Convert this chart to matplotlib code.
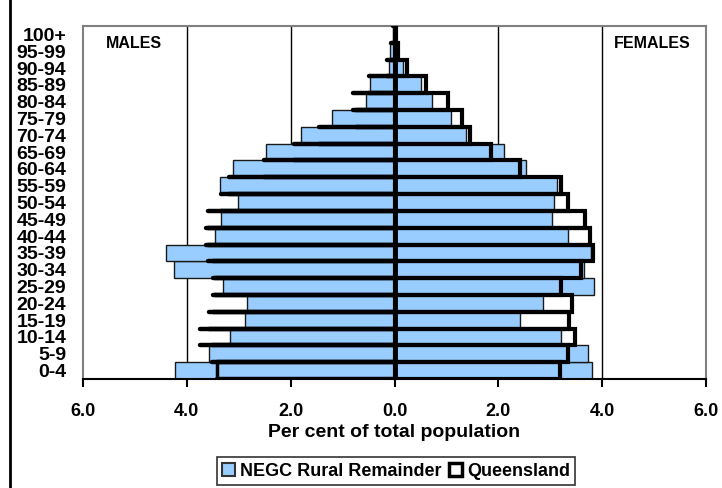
import numpy as np
import matplotlib
matplotlib.use('Agg')
from matplotlib import pyplot as plt
from matplotlib.patches import Patch
from matplotlib.lines import Line2D

plt.rcParams['font.family'] = ['Liberation Sans', 'DejaVu Sans']
plt.rcParams['font.weight'] = 'bold'

# age groups, youngest first
ages = ['0-4', '5-9', '10-14', '15-19', '20-24', '25-29', '30-34', '35-39',
        '40-44', '45-49', '50-54', '55-59', '60-64', '65-69', '70-74',
        '75-79', '80-84', '85-89', '90-94', '95-99', '100+']
# per cent of total population
negc_male = [4.23, 3.57, 3.16, 2.88, 2.85, 3.31, 4.24, 4.40, 3.46, 3.34, 3.02,
             3.36, 3.11, 2.48, 1.80, 1.21, 0.55, 0.48, 0.11, 0.09, 0.03]
negc_female = [3.80, 3.72, 3.21, 2.41, 2.86, 3.85, 3.65, 3.78, 3.34, 3.04, 3.08,
               3.13, 2.53, 2.11, 1.37, 1.08, 0.73, 0.52, 0.16, 0.05, 0.01]
qld_male = [3.41, 3.52, 3.75, 3.57, 3.49, 3.45, 3.49, 3.59, 3.63, 3.60, 3.35,
            3.18, 2.51, 1.93, 1.45, 0.75, 0.80, 0.49, 0.14, 0.07, 0.03]
qld_female = [3.18, 3.34, 3.48, 3.36, 3.41, 3.21, 3.60, 3.83, 3.76, 3.66, 3.34,
              3.21, 2.41, 1.85, 1.45, 1.30, 1.04, 0.60, 0.24, 0.07, 0.02]
xticks = [-6, -4, -2, 0, 2, 4, 6]

y = np.arange(len(ages))
blue = '#99CCFF'

fig = plt.figure(figsize=(7.22, 4.88), dpi=100)
ax = fig.add_axes([83/722, 1-379/488, 623/722, 353/488])

for gx in [-4, -2, 2, 4]:
    ax.axvline(gx, color='k', lw=1, zorder=0)

ax.barh(y, -np.array(negc_male), height=1.0, color=blue, edgecolor='#1a1a1a', lw=1, zorder=2)
ax.barh(y, negc_female, height=1.0, color=blue, edgecolor='#1a1a1a', lw=1, zorder=2)

# queensland, outline only
ax.barh(y, qld_female, height=1.0, fill=False, edgecolor='k', lw=3, zorder=3)
qm = -np.array(qld_male)
ax.hlines(y + 0.5, qm, 0, color='k', lw=3.2, zorder=3, capstyle='round')
ax.hlines(y - 0.5, qm, 0, color='k', lw=3.2, zorder=3, capstyle='round')
ax.vlines(qm[0], -0.5, 0.5, color='k', lw=2.5, zorder=3)
ax.axvline(0, color='k', lw=3.5, zorder=4)

ax.set_xlim(-6, 6)
ax.set_ylim(-0.5, len(ages) - 0.5)
ax.set_xticks(xticks)
ax.set_xticklabels(['%.1f' % abs(v) for v in xticks], fontsize=13, fontweight='bold')
ax.tick_params(axis='x', direction='out', length=6, width=1.5, pad=11)
ax.set_yticks(y)
ax.set_yticklabels(ages, fontsize=14, fontweight='bold')
ax.tick_params(axis='y', length=0, pad=12)
for s in ['top', 'right', 'left']:
    ax.spines[s].set_color('#808080')
    ax.spines[s].set_linewidth(1.5)
ax.spines['bottom'].set_color('k')
ax.spines['bottom'].set_linewidth(1.5)
ax.set_xlabel('Per cent of total population', fontsize=14, fontweight='bold', labelpad=3)

ax.text(0.082, 0.95, 'MALES', transform=ax.transAxes, fontsize=11.5, fontweight='bold', ha='center', va='center')
ax.text(0.913, 0.95, 'FEMALES', transform=ax.transAxes, fontsize=11.5, fontweight='bold', ha='center', va='center')

handles = [Patch(facecolor=blue, edgecolor='#333333', lw=1.5),
           Patch(facecolor='white', edgecolor='k', lw=2.5)]
leg = fig.legend(handles, ['NEGC Rural Remainder', 'Queensland'], loc='center',
                 bbox_to_anchor=(396/722, 1-471/488), ncol=2, fontsize=13,
                 frameon=True, fancybox=False, handlelength=0.7, handleheight=0.7,
                 handletextpad=0.3, columnspacing=0.4, borderpad=0.3)
leg.get_frame().set_edgecolor('k')
leg.get_frame().set_linewidth(1.2)

fig.add_artist(Line2D([10/722, 10/722], [0, 1], color='k', lw=2, transform=fig.transFigure))

fig.savefig('out.png', dpi=100)
